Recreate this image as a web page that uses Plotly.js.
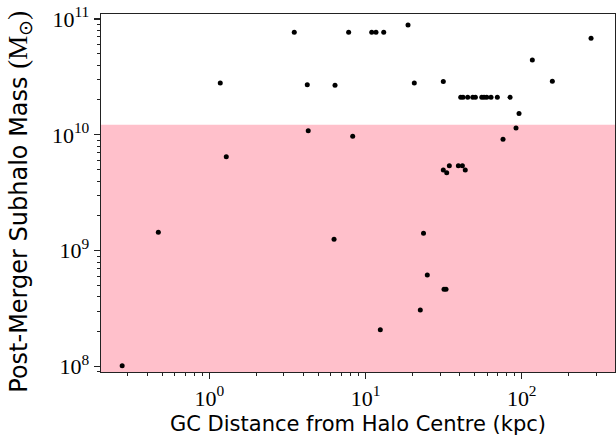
<!DOCTYPE html>
<html>
<head>
<meta charset="utf-8">
<script src="https://cdn.plot.ly/plotly-3.0.1.min.js"></script>
<style>html,body{margin:0;padding:0;background:#fff;}#chart{width:616px;height:443px;}</style>
</head>
<body>
<div id="chart"></div>
<script>
// GC distance from halo centre (kpc)
const gcDistance = [
  0.277, 0.472, 1.176, 1.285, 3.50, 4.24, 4.30, 6.29, 6.38, 7.80,
  8.28, 10.96, 11.67, 13.08, 12.44, 18.71, 20.53, 22.43, 23.51, 24.86,
  31.48, 31.81, 32.76, 31.48, 33.1, 34.4, 39.3, 41.7, 43.5,
  40.7, 42.1, 45.1, 48.6, 50.5, 55.5, 57.4, 59.7, 63.6, 69.8, 84.2,
  75.9, 91.9, 96.1, 116.9, 157, 277.8
];
// Post-merger subhalo mass (Msun)
const subhaloMass = [
  1.02e8, 1.444e9, 2.80e10, 6.49e9, 7.68e10, 2.71e10, 1.087e10, 1.257e9, 2.68e10, 7.68e10,
  9.72e9, 7.68e10, 7.68e10, 7.68e10, 2.085e8, 8.88e10, 2.80e10, 3.08e8, 1.416e9, 6.18e8,
  2.89e10, 4.66e8, 4.66e8, 4.98e9, 4.72e9, 5.42e9, 5.42e9, 5.42e9, 4.98e9,
  2.11e10, 2.11e10, 2.11e10, 2.11e10, 2.11e10, 2.11e10, 2.11e10, 2.11e10, 2.11e10, 2.11e10, 2.11e10,
  9.16e9, 1.147e10, 1.53e10, 4.43e10, 2.90e10, 6.82e10
];
// Mass threshold below which region is shaded
const thresholdMass = 1.22e10;
const shadeX = [0.01, 10000, 10000, 0.01];
const shadeY = [1e7, 1e7, thresholdMass, thresholdMass];

const xTickVals = [1, 10, 100];
const xTickText = ['10<sup>0</sup>', '10<sup>1</sup>', '10<sup>2</sup>'];
const yTickVals = [1e8, 1e9, 1e10, 1e11];
const yTickText = ['10<sup>8</sup>', '10<sup>9</sup>', '10<sup>10</sup>', '10<sup>11</sup>'];

const serif = 'Liberation Serif, DejaVu Serif, serif';
const sans = 'DejaVu Sans, Liberation Sans, sans-serif';

const traces = [
  {
    x: shadeX, y: shadeY, type: 'scatter', mode: 'lines',
    fill: 'toself', fillcolor: 'rgb(255,192,203)', line: {width: 0},
    hoverinfo: 'skip', showlegend: false
  },
  {
    x: gcDistance, y: subhaloMass, type: 'scatter', mode: 'markers',
    marker: {color: '#000', size: 5}, showlegend: false
  }
];

const axisCommon = {
  type: 'log', showgrid: false, zeroline: false,
  showline: true, linecolor: '#222', linewidth: 1.3, mirror: true,
  ticks: 'outside', ticklen: 6, tickwidth: 1.2, tickcolor: '#222',
  tickfont: {family: serif, size: 22, color: '#000'},
  tickmode: 'array',
  minor: {ticks: 'outside', ticklen: 3, tickwidth: 1, tickcolor: '#222', dtick: 'D1'}
};

const layout = {
  width: 616, height: 443,
  margin: {l: 101, r: 1, t: 14, b: 71},
  paper_bgcolor: '#fff', plot_bgcolor: '#fff',
  showlegend: false,
  xaxis: Object.assign({}, axisCommon, {
    range: [-0.693, 2.597],
    tickvals: xTickVals, ticktext: xTickText,
    title: {text: 'GC Distance from Halo Centre (kpc)', font: {family: sans, size: 21, color: '#000'}, standoff: 6}
  }),
  yaxis: Object.assign({}, axisCommon, {
    range: [7.954, 11.043],
    tickvals: yTickVals, ticktext: yTickText
  }),
  annotations: [{
    text: 'Post-Merger Subhalo Mass <span style="font-family:Liberation Serif;font-size:27px">(M<sub>⊙</sub>)</span>',
    font: {family: sans, size: 24, color: '#000'},
    textangle: -90, showarrow: false,
    xref: 'paper', yref: 'paper', x: -0.158, y: 0.475,
    xanchor: 'center', yanchor: 'middle'
  }]
};

Plotly.newPlot('chart', traces, layout, {displayModeBar: false, staticPlot: true});
</script>
</body>
</html>
